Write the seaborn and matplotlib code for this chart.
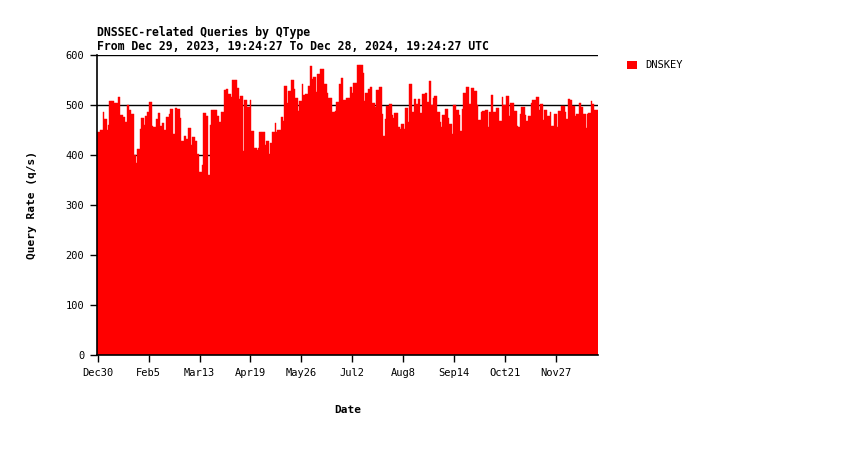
"""DNSSEC-related queries by QType (DNSKEY), daily rate over one year."""

import matplotlib
matplotlib.use("Agg")
import matplotlib.pyplot as plt
from matplotlib.patches import Patch
import numpy as np
import pandas as pd
import seaborn as sns

START_DATE = "2023-12-30"
SERIES_NAME = "DNSKEY"
TITLE = "DNSSEC-related Queries by QType"
SUBTITLE = "From Dec 29, 2023, 19:24:27 To Dec 28, 2024, 19:24:27 UTC"

# daily query rate (q/s)
dnskey = [
    447, 447, 450, 450, 486, 472, 472, 450, 460, 508,
    508, 508, 504, 504, 504, 516, 516, 480, 480, 476,
    466, 466, 500, 490, 490, 482, 482, 400, 384, 412,
    412, 452, 474, 474, 460, 478, 486, 486, 506, 506,
    458, 456, 456, 472, 484, 484, 458, 464, 464, 450,
    476, 476, 482, 492, 492, 442, 442, 494, 492, 492,
    474, 428, 428, 438, 438, 432, 454, 454, 420, 436,
    436, 428, 428, 402, 366, 366, 380, 484, 484, 478,
    478, 360, 460, 490, 490, 490, 490, 478, 478, 466,
    486, 486, 530, 530, 532, 522, 522, 516, 550, 550,
    550, 550, 534, 512, 518, 518, 408, 510, 510, 496,
    496, 510, 448, 448, 414, 414, 410, 414, 446, 446,
    446, 446, 420, 428, 428, 402, 424, 446, 446, 464,
    446, 450, 450, 450, 476, 468, 538, 538, 504, 528,
    528, 550, 550, 532, 514, 514, 488, 508, 508, 542,
    520, 522, 522, 538, 538, 578, 552, 556, 556, 526,
    562, 562, 572, 572, 572, 542, 542, 524, 514, 514,
    514, 486, 486, 488, 506, 506, 542, 554, 554, 510,
    510, 514, 514, 514, 536, 524, 544, 544, 544, 580,
    580, 580, 580, 564, 508, 524, 524, 532, 536, 536,
    504, 504, 496, 530, 530, 536, 536, 482, 438, 472,
    498, 498, 502, 502, 480, 474, 484, 484, 484, 456,
    452, 462, 462, 452, 494, 494, 466, 542, 542, 486,
    512, 512, 502, 512, 512, 484, 522, 522, 524, 524,
    506, 548, 548, 500, 514, 518, 518, 486, 486, 466,
    456, 480, 480, 492, 492, 474, 462, 462, 442, 500,
    500, 490, 490, 480, 448, 492, 524, 524, 536, 536,
    502, 502, 534, 534, 528, 528, 500, 470, 470, 486,
    488, 488, 490, 490, 456, 486, 520, 520, 486, 486,
    494, 494, 468, 468, 516, 500, 500, 518, 518, 478,
    504, 504, 504, 488, 488, 458, 456, 482, 496, 496,
    496, 480, 468, 478, 478, 504, 510, 510, 510, 516,
    516, 490, 502, 502, 470, 490, 490, 478, 478, 486,
    458, 458, 482, 482, 456, 488, 488, 498, 498, 498,
    486, 472, 512, 512, 510, 498, 498, 478, 482, 482,
    504, 504, 496, 482, 482, 454, 482, 484, 484, 508,
    502, 490, 490, 490,
]

dates = pd.date_range(START_DATE, periods=len(dnskey), freq="D")
df = pd.DataFrame({"day": np.arange(len(dnskey)), "rate": dnskey})

tick_days = list(range(0, len(dnskey), 37))
tick_labels = [f"{d.strftime('%b')}{d.day}" for d in dates[tick_days]]

sns.set_theme(style="white")
plt.rcParams["font.family"] = ["DejaVu Sans Mono"]
plt.rcParams["text.color"] = "black"
RED = "#ff0000"

fig = plt.figure(figsize=(8.5, 4.5), dpi=100)
ax = fig.add_axes([97 / 850, 1 - 355 / 450, 501 / 850, 300 / 450])

sns.barplot(
    data=df, x="day", y="rate", color=RED, width=1.0,
    saturation=1, edgecolor=RED, linewidth=0.3, ax=ax,
)

ax.set_xlim(-0.5, len(dnskey) - 0.5)
ax.set_ylim(0, 600)
ax.set_yticks(range(0, 601, 100))
ax.set_yticklabels([str(v) for v in range(0, 601, 100)], fontsize=7.5)
ax.set_xticks(tick_days)
ax.set_xticklabels(tick_labels, fontsize=7.5)
ax.tick_params(axis="both", direction="out", length=5, width=1, color="black",
               labelcolor="black", bottom=True, left=True, pad=4)

ax.set_axisbelow(True)
ax.grid(axis="y", color="black", linewidth=1)
ax.grid(axis="x", visible=False)
ax.spines[["top", "right"]].set_visible(False)
for s in ("left", "bottom"):
    ax.spines[s].set_color("black")
    ax.spines[s].set_linewidth(1.2)

ax.set_xlabel("Date", fontsize=8, fontweight="bold", labelpad=20, color="black")
ax.set_ylabel("Query Rate (q/s)", fontsize=8, fontweight="bold", labelpad=21,
              color="black")

fig.text(97 / 850, 1 - 32 / 450, TITLE, fontsize=8.3, fontweight="bold",
         ha="left", va="center", color="black")
fig.text(97 / 850, 1 - 47 / 450, SUBTITLE, fontsize=8.3, fontweight="bold",
         ha="left", va="center", color="black")

leg = ax.legend(
    handles=[Patch(facecolor=RED, edgecolor="none", label=SERIES_NAME)],
    loc="upper left", bbox_to_anchor=(1.04, 1.013), frameon=False,
    handlelength=0.9, handleheight=0.9, handletextpad=0.8, fontsize=7.5,
)
for t in leg.get_texts():
    t.set_color("black")

fig.savefig("out.png", dpi=100)
